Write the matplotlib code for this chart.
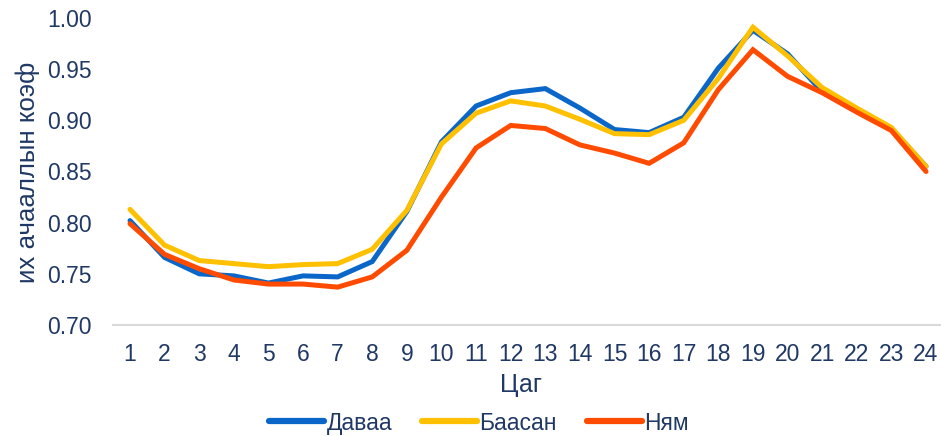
import matplotlib
matplotlib.use("Agg")
import matplotlib.pyplot as plt
from matplotlib.ticker import FormatStrFormatter

plt.rcParams['font.family'] = ['Liberation Sans', 'DejaVu Sans']

hours = list(range(1, 25))
davaa = [0.802, 0.766, 0.750, 0.748, 0.741, 0.748, 0.747, 0.762, 0.811, 0.879, 0.914, 0.927,
         0.931, 0.912, 0.891, 0.888, 0.903, 0.951, 0.988, 0.965, 0.928, 0.909, 0.892, 0.855]
baasan = [0.813, 0.778, 0.763, 0.760, 0.757, 0.759, 0.760, 0.774, 0.812, 0.877, 0.907, 0.919,
          0.914, 0.901, 0.887, 0.886, 0.900, 0.941, 0.991, 0.963, 0.932, 0.912, 0.893, 0.855]
nyam = [0.799, 0.769, 0.755, 0.744, 0.740, 0.740, 0.737, 0.747, 0.773, 0.825, 0.873, 0.895,
        0.892, 0.876, 0.868, 0.858, 0.878, 0.930, 0.969, 0.943, 0.927, 0.908, 0.890, 0.850]
series = [("Даваа", davaa, "#0A66C8"), ("Баасан", baasan, "#FFC000"), ("Ням", nyam, "#FF4B00")]

txt = "#1F3864"
W, H = 941, 436
L, R = 112.7, 943.3
fig = plt.figure(figsize=(W / 100, H / 100), dpi=100)
ax = fig.add_axes([L / W, 1 - 325 / H, (R - L) / W, 307 / H])

for name, vals, col in series:
    ax.plot(hours, vals, color=col, lw=3.6, label=name, solid_capstyle='round',
            solid_joinstyle='miter', clip_on=False)

ax.set_xlim(0.5, 24.5)
ax.set_ylim(0.70, 1.00)
ax.set_yticks([0.70, 0.75, 0.80, 0.85, 0.90, 0.95, 1.00])
ax.yaxis.set_major_formatter(FormatStrFormatter('%.2f'))
ax.set_xticks(hours)
for s in ['top', 'right', 'left']:
    ax.spines[s].set_visible(False)
ax.spines['bottom'].set_color('#D9D9D9')
ax.spines['bottom'].set_linewidth(1.5)
ax.tick_params(axis='both', length=0, labelsize=16.5, colors=txt)
ax.tick_params(axis='x', pad=13)
ax.tick_params(axis='y', pad=15)

ax.set_xlabel("Цаг", fontsize=18, color=txt)
ax.xaxis.set_label_coords((521 - L) / (R - L), -(385 - 325) / 307)
ax.set_ylabel("их ачааллын коэф", fontsize=18.6, color=txt)
ax.yaxis.set_label_coords(-(L - 28) / (R - L), (325 - 172) / 307)
ax.xaxis.label.set_va('center')
ax.yaxis.label.set_va('center')

leg = fig.legend(loc='center', bbox_to_anchor=(479 / W, 1 - 423 / H), ncol=3, frameon=False,
                 fontsize=16.5, handlelength=2.4, handletextpad=0.1, columnspacing=1.3,
                 labelcolor=txt)
for h in leg.get_lines():
    h.set_linewidth(4.5)

fig.savefig("out.png", dpi=100)
